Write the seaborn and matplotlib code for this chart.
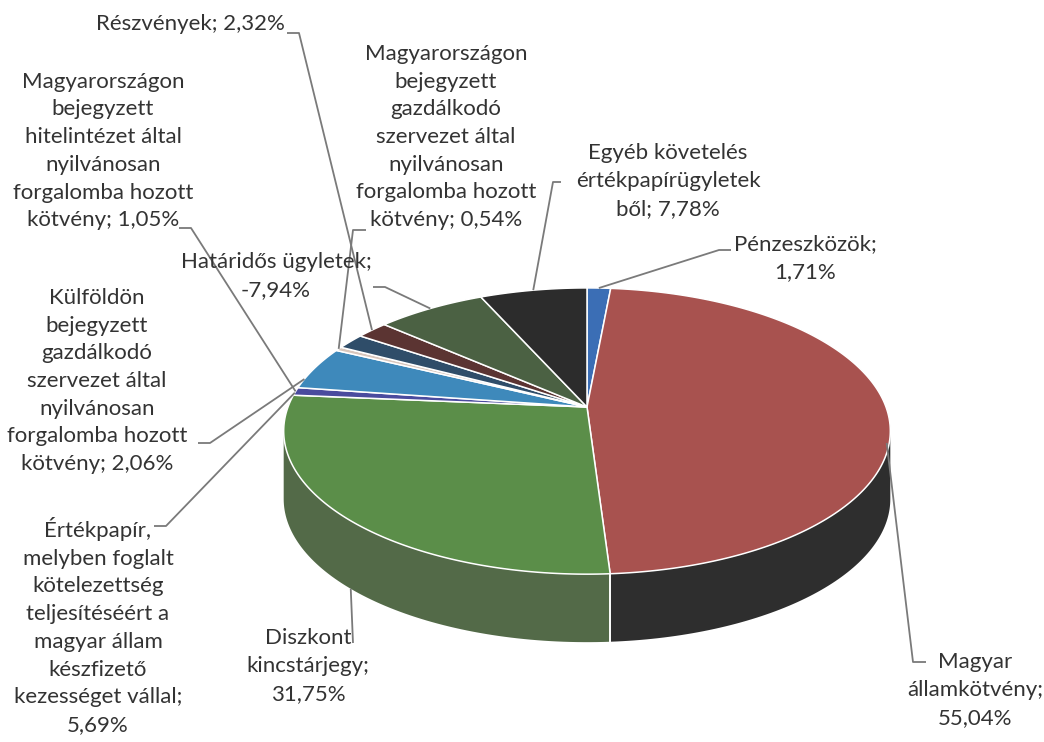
import matplotlib
matplotlib.use("Agg")
import matplotlib.pyplot as plt
import numpy as np
import seaborn as sns
from matplotlib.patches import Polygon

# slice data, in the order Excel draws them (clockwise from 12 o'clock)
CATEGORIES = [
    "Pénzeszközök",
    "Magyar államkötvény",
    "Diszkont kincstárjegy",
    "Magyarországon bejegyzett hitelintézet által nyilvánosan forgalomba hozott kötvény",
    "Értékpapír, melyben foglalt kötelezettség teljesítéséért a magyar állam készfizető kezességet vállal",
    "Magyarországon bejegyzett gazdálkodó szervezet által nyilvánosan forgalomba hozott kötvény",
    "Külföldön bejegyzett gazdálkodó szervezet által nyilvánosan forgalomba hozott kötvény",
    "Részvények",
    "Határidős ügyletek",
    "Egyéb követelés értékpapírügyletekből",
]
VALUES = [1.71, 55.04, 31.75, 1.05, 5.69, 0.54, 2.06, 2.32, -7.94, 7.78]

TOP_COLORS = ["#3b6eb5", "#a8524f", "#5b8e49", "#4a4b9e", "#3e89bb",
              "#d8c6bc", "#2f4d69", "#5b3432", "#4b6143", "#2c2c2c"]
SIDE_COLORS = ["#2b4f82", "#2e2e2e", "#536a48", "#35356f", "#2c6285",
               "#9a8d86", "#22374b", "#412524", "#364530", "#1f1f1f"]

# layout (pixel coordinates of the 1044x742 canvas)
CX, CY = 587, 407
SX = 299
TILT = 70.7
PERSP = -0.168
DEPTH = 68

WRAP = [18, 18, 18, 18, 18, 18, 18, 18, 20, 18]
LABEL_XY = [(805, 258), (975, 690), (308, 666), (103, 151), (98, 626),
            (446, 137), (97, 381), (190, 24), (276, 276), (668, 181)]
LEADER_START = [(731, 250), (926, 662), (353, 643), (179, 228), (154, 526),
                (366, 230), (198, 443), (287, 33), (373, 287), (561, 182)]
LEADER_KNEE = [(719, 250), (913, 662), (353, 643), (191, 228), (166, 526),
               (353, 230), (210, 443), (299, 33), (385, 287), (553, 182)]
ANCHOR_THETA = [None, None, 224, None, 276, None, 282, None, None, None]
ANCHOR_DEPTH = [0, 0.5, 1.0, 0, 0, 0, 0, 0, 0, 0]


def project(theta, depth=0.0):
    t = np.radians(theta)
    u, v = np.sin(t), -np.cos(t)
    w = 1 + PERSP * v
    return CX + SX * u / w, (TILT * v + CY) / w + depth


def wrap_words(text, width):
    # greedy wrap like Excel: a word that does not fit goes to a new line,
    # and only a word longer than a whole line gets cut
    lines, cur = [], ""
    for word in text.split():
        if not cur:
            cur = word
        elif len(cur) + 1 + len(word) <= width:
            cur += " " + word
        else:
            lines.append(cur)
            cur = word
        while len(cur) > width:
            lines.append(cur[:width])
            cur = cur[width:]
    if cur:
        lines.append(cur)
    return "\n".join(lines)


def fmt_label(name, value, width):
    return wrap_words(f"{name}; {value:.2f}%".replace(".", ","), width)


sns.set_theme(style="white")
plt.rcParams["font.family"] = ["Lato", "DejaVu Sans"]

fig = plt.figure(figsize=(10.44, 7.42), dpi=100)
ax = fig.add_axes([0, 0, 1, 1])
ax.set_xlim(0, 1044)
ax.set_ylim(742, 0)
ax.axis("off")

sizes = np.abs(np.array(VALUES))
edges = np.concatenate([[0], np.cumsum(sizes) / sizes.sum() * 360])
vis_lo = np.degrees(np.arccos(PERSP))
vis_hi = 360 - vis_lo

# side walls (only the front part is visible)
for i in range(len(VALUES)):
    a, b = max(edges[i], vis_lo), min(edges[i + 1], vis_hi)
    if b <= a:
        continue
    ts = np.linspace(a, b, 80)
    tx, ty = project(ts)
    bx, by = project(ts[::-1], DEPTH)
    pts = np.column_stack([np.concatenate([tx, bx]), np.concatenate([ty, by])])
    ax.add_patch(Polygon(pts, closed=True, fc=SIDE_COLORS[i], ec="none", zorder=1))
    for t in (edges[i], edges[i + 1]):
        if vis_lo < t < vis_hi:
            x0, y0 = project(t)
            x1, y1 = project(t, DEPTH)
            ax.plot([x0, x1], [y0, y1], color="white", lw=1.2, zorder=2)

# top faces
for i in range(len(VALUES)):
    ts = np.linspace(edges[i], edges[i + 1], max(int(edges[i + 1] - edges[i]) * 2, 4))
    tx, ty = project(ts)
    pts = np.column_stack([np.concatenate([[CX], tx]), np.concatenate([[CY], ty])])
    ax.add_patch(Polygon(pts, closed=True, fc=TOP_COLORS[i], ec="white", lw=1.1,
                         joinstyle="round", zorder=3))

# labels and leader lines
for i, (name, val) in enumerate(zip(CATEGORIES, VALUES)):
    lx, ly = LABEL_XY[i]
    ax.text(lx, ly, fmt_label(name, val, WRAP[i]), ha="center", va="center",
            multialignment="center", fontsize=16, color="#333333",
            linespacing=1.48, zorder=5)
    theta = ANCHOR_THETA[i]
    if theta is None:
        theta = (edges[i] + edges[i + 1]) / 2
    axp, ayp = project(theta, DEPTH * ANCHOR_DEPTH[i])
    sx, sy = LEADER_START[i]
    kx, ky = LEADER_KNEE[i]
    ax.plot([sx, kx, axp], [sy, ky, ayp], color="#7a7a7a", lw=1.3,
            solid_capstyle="butt", zorder=4)

fig.savefig("out.png", dpi=100, facecolor="white")
